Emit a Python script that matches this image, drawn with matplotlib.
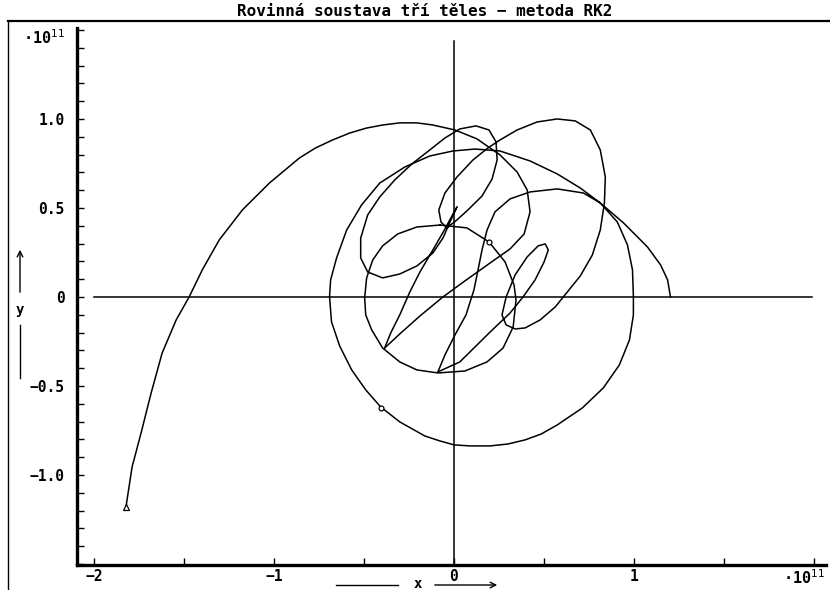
import matplotlib
matplotlib.use("Agg")
import matplotlib.pyplot as plt
from matplotlib.lines import Line2D
from matplotlib.ticker import MultipleLocator, FuncFormatter

# positions, in units of 1e11 m

# body that starts at (1.2, 0) and winds inwards
spiral_x = [1.203, 1.187, 1.148, 1.075, 0.942, 0.813, 0.702, 0.574, 0.423, 0.256,
            0.117, -0.006, -0.134, -0.273, -0.412, -0.513, -0.596, -0.652, -0.685, -0.691,
            -0.680, -0.635, -0.568, -0.490, -0.407, -0.301, -0.162, -0.078, 0.000, 0.089,
            0.201, 0.301, 0.396, 0.485,
            0.574, 0.713, 0.830, 0.919, 0.975, 0.997, 0.997, 0.992, 0.964, 0.908,
            0.813, 0.719, 0.574, 0.423, 0.312, 0.228, 0.184, 0.156, 0.134, 0.111,
            0.067, 0.006, -0.050, -0.089]
spiral_y = [0.000, 0.096, 0.180, 0.281, 0.416, 0.528, 0.612, 0.691, 0.764, 0.820,
            0.831, 0.820, 0.792, 0.730, 0.640, 0.517, 0.376, 0.219, 0.096, 0.000,
            -0.140, -0.275, -0.410, -0.522, -0.618, -0.702, -0.781, -0.809, -0.831, -0.837,
            -0.837, -0.826, -0.803, -0.770,
            -0.719, -0.624, -0.511, -0.382, -0.242, -0.101, 0.000, 0.152, 0.292, 0.421,
            0.528, 0.584, 0.607, 0.590, 0.551, 0.478, 0.376, 0.264, 0.152, 0.039,
            -0.101, -0.213, -0.326, -0.421]

# same body: loops around the centre after the first close pass
loops_x = [-0.089, 0.033, 0.201, 0.312, 0.384, 0.451, 0.501, 0.524, 0.507, 0.468,
           0.407, 0.340, 0.290, 0.267, 0.290, 0.340, 0.396, 0.479, 0.563, 0.630,
           0.702, 0.769, 0.813, 0.836, 0.841, 0.813, 0.758, 0.674, 0.574, 0.462,
           0.351, 0.256, 0.189, 0.106, 0.017, -0.050, -0.084, -0.072, -0.039, 0.017,
           0.078, 0.156, 0.212, 0.240, 0.234, 0.195, 0.123, 0.033, -0.050, -0.134,
           -0.234, -0.329, -0.412, -0.479, -0.518, -0.518, -0.479, -0.396, -0.301, -0.206,
           -0.117, -0.061, -0.022, 0.017, -0.011, -0.056, -0.117, -0.189, -0.245, -0.301,
           -0.351, -0.385]
loops_y = [-0.421, -0.365, -0.197, -0.090, 0.000, 0.096, 0.197, 0.264, 0.298, 0.287,
           0.225, 0.124, 0.000, -0.101, -0.157, -0.180, -0.174, -0.129, -0.056, 0.028,
           0.118, 0.236, 0.376, 0.528, 0.674, 0.826, 0.938, 0.989, 1.000, 0.983,
           0.938, 0.882, 0.837, 0.770, 0.674, 0.584, 0.489, 0.421, 0.388, 0.433,
           0.489, 0.567, 0.663, 0.770, 0.871, 0.938, 0.961, 0.944, 0.893, 0.826,
           0.747, 0.657, 0.562, 0.461, 0.331, 0.219, 0.140, 0.107, 0.129, 0.174,
           0.247, 0.331, 0.421, 0.506, 0.455, 0.371, 0.264, 0.140, 0.028, -0.101,
           -0.202, -0.287]

# same body: second close pass, then thrown out to the lower left
escape_x = [-0.385, -0.301, -0.189, -0.061, 0.061, 0.201, 0.312, 0.390, 0.423, 0.407,
            0.351, 0.256, 0.128, 0.006, -0.117, -0.206, -0.301, -0.396, -0.485, -0.579,
            -0.674, -0.769, -0.858, -1.025,
            -1.175, -1.304, -1.398, -1.471, -1.543, -1.621, -1.682, -1.738, -1.788, -1.822]
escape_y = [-0.287, -0.208, -0.107, 0.000, 0.090, 0.191, 0.270, 0.354, 0.478, 0.601,
            0.702, 0.798, 0.888, 0.938, 0.966, 0.978, 0.978, 0.966, 0.949, 0.921,
            0.882, 0.837, 0.781, 0.640,
            0.489, 0.320, 0.152, 0.000, -0.129, -0.315, -0.539, -0.764, -0.955, -1.180]

# inner body on the small orbit
inner_x = [-0.078, 0.072, 0.195, 0.284, 0.334, 0.345, 0.329, 0.273, 0.184, 0.061,
           -0.089, -0.206, -0.301, -0.396, -0.457, -0.490, -0.496, -0.485, -0.451, -0.396,
           -0.312, -0.206, -0.078]
inner_y = [0.404, 0.388, 0.309, 0.197, 0.067, -0.017, -0.169, -0.287, -0.365, -0.416,
           -0.427, -0.410, -0.365, -0.287, -0.185, -0.101, -0.006, 0.107, 0.208, 0.287,
           0.354, 0.393, 0.404]

# final positions
end_tri = (-1.822, -1.180)
end_circles_x = [0.195, -0.407]
end_circles_y = [0.309, -0.624]

W, H = 830, 590


def fx(px):
    return px / W


def fy(py):
    return 1 - py / H


fig = plt.figure(figsize=(W / 100, H / 100), dpi=100)
ax = fig.add_axes([fx(77), fy(565), fx(826) - fx(77), fy(28) - fy(565)])
ax.set_xlim(-2.094, 2.067)
ax.set_ylim(-1.506, 1.511)

# coordinate cross
ax.plot([-2.0, 1.99], [0, 0], color="black", lw=1.1)
ax.plot([0, 0], [-1.506, 1.44], color="black", lw=1.1)

for xs, ys in [(spiral_x, spiral_y), (loops_x, loops_y), (escape_x, escape_y), (inner_x, inner_y)]:
    ax.plot(xs, ys, color="black", lw=1.1, solid_joinstyle="round")

ax.plot(*end_tri, marker="^", ms=4, mfc="white", mec="black", mew=0.9)
ax.plot(end_circles_x, end_circles_y, "o", ms=3.5, mfc="white", mec="black", mew=0.9)

for s in ["top", "right"]:
    ax.spines[s].set_visible(False)
for s in ["left", "bottom"]:
    ax.spines[s].set_linewidth(2.4)

ax.xaxis.set_major_locator(MultipleLocator(0.5))
ax.yaxis.set_major_locator(MultipleLocator(0.1))
ax.tick_params(direction="in", length=5, width=1.0, labelsize=10.5)
ax.tick_params(axis="y", pad=9)
ax.tick_params(axis="x", pad=3)


def xfmt(v, pos):
    if abs(v - round(v)) > 1e-6 or round(v) > 1:
        return ""
    return str(int(round(v))).replace("-", "\u2212")


def yfmt(v, pos):
    k = round(v * 10)
    if k % 5 or abs(k) > 10:
        return ""
    if k == 0:
        return "0"
    return f"{v:.1f}".replace("-", "\u2212")


ax.xaxis.set_major_formatter(FuncFormatter(xfmt))
ax.yaxis.set_major_formatter(FuncFormatter(yfmt))
for lab in ax.get_xticklabels() + ax.get_yticklabels():
    lab.set_fontfamily("DejaVu Sans Mono")
    lab.set_fontweight("bold")

font = dict(family="DejaVu Sans Mono", weight="bold", color="black")

# exponent markers
fig.text(fx(44), fy(38), "\u00b710$^{11}$", ha="center", va="center", fontsize=11, **font)
fig.text(fx(804), fy(578), "\u00b710$^{11}$", ha="center", va="center", fontsize=11, **font)

# title bar and frame
fig.text(fx(425), fy(16), "Rovinná soustava tří těles \u2212 metoda RK2",
         ha="center", va="baseline", fontsize=11.5, **font)
fig.add_artist(Line2D([fx(8), 1], [fy(21), fy(21)], color="black", lw=1.6))
fig.add_artist(Line2D([fx(8), fx(8)], [0, fy(21)], color="black", lw=1.0))

# axis names with arrows
fig.text(fx(20), fy(310), "y", ha="center", va="center", fontsize=10, **font)
fig.add_artist(Line2D([fx(20), fx(20)], [fy(325), fy(378)], color="black", lw=1.0))
ax.annotate("", xy=(fx(20), fy(247)), xytext=(fx(20), fy(295)), xycoords="figure fraction",
            arrowprops=dict(arrowstyle="->", lw=1.0, color="black"))

fig.text(fx(418), fy(584), "x", ha="center", va="center", fontsize=10, **font)
fig.add_artist(Line2D([fx(336), fx(398)], [fy(585), fy(585)], color="black", lw=1.0))
ax.annotate("", xy=(fx(500), fy(585)), xytext=(fx(432), fy(585)), xycoords="figure fraction",
            arrowprops=dict(arrowstyle="->", lw=1.0, color="black"))

fig.savefig("out.png", dpi=100)
